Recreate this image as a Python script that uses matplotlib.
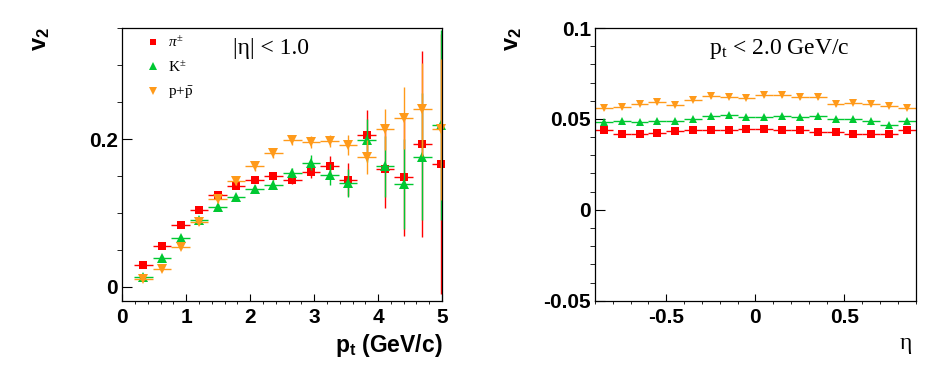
import numpy as np
import matplotlib
matplotlib.use("Agg")
import matplotlib.pyplot as plt
from matplotlib.ticker import MultipleLocator, FuncFormatter
from matplotlib.lines import Line2D

plt.rcParams["font.family"] = ["Liberation Sans", "DejaVu Sans"]
plt.rcParams["mathtext.fontset"] = "custom"
plt.rcParams["mathtext.rm"] = "Liberation Serif"
plt.rcParams["mathtext.it"] = "Liberation Serif:italic"
plt.rcParams["mathtext.bf"] = "Liberation Sans:bold"
plt.rcParams["axes.unicode_minus"] = False

# left panel: v2 vs pt (|eta| < 1.0)
pt = [0.33, 0.62, 0.91, 1.20, 1.49, 1.78, 2.07, 2.36, 2.66, 2.95, 3.24, 3.53, 3.82, 4.11, 4.40, 4.69, 4.98]
pt_halfbin = 0.145
pi_v2 = [0.030, 0.056, 0.084, 0.104, 0.124, 0.136, 0.145, 0.150, 0.145, 0.156, 0.164, 0.145, 0.205, 0.160, 0.149, 0.193, 0.166]
pi_err = [0.002, 0.002, 0.003, 0.003, 0.003, 0.004, 0.004, 0.005, 0.006, 0.009, 0.013, 0.022, 0.034, 0.053, 0.080, 0.126, 0.176]
k_v2 = [0.013, 0.039, 0.066, 0.090, 0.108, 0.121, 0.133, 0.138, 0.154, 0.168, 0.152, 0.141, 0.198, 0.163, 0.139, 0.176, 0.219]
k_err = [0.002, 0.003, 0.003, 0.004, 0.004, 0.004, 0.005, 0.006, 0.007, 0.010, 0.014, 0.019, 0.029, 0.041, 0.061, 0.086, 0.128]
p_v2 = [0.011, 0.024, 0.054, 0.088, 0.119, 0.143, 0.163, 0.181, 0.199, 0.196, 0.197, 0.192, 0.176, 0.213, 0.228, 0.240, 0.213]
p_err = [0.002, 0.003, 0.003, 0.004, 0.005, 0.005, 0.006, 0.006, 0.007, 0.008, 0.008, 0.013, 0.023, 0.028, 0.042, 0.063, 0.095]

# right panel: v2 vs eta (pt < 2.0 GeV/c)
eta = [-0.85, -0.75, -0.65, -0.55, -0.45, -0.35, -0.25, -0.15, -0.05,
       0.05, 0.15, 0.25, 0.35, 0.45, 0.55, 0.65, 0.75, 0.85]
eta_halfbin = 0.05
pi_eta = [0.0439, 0.0415, 0.0415, 0.0424, 0.0435, 0.0439, 0.0439, 0.0439, 0.0446,
          0.0446, 0.0439, 0.0439, 0.0428, 0.0428, 0.0415, 0.0415, 0.0415, 0.0439]
k_eta = [0.0485, 0.0488, 0.0481, 0.0488, 0.0488, 0.0499, 0.0518, 0.0521, 0.0512,
         0.0512, 0.0518, 0.0509, 0.0514, 0.0501, 0.0499, 0.0488, 0.0465, 0.0489]
p_eta = [0.0558, 0.0564, 0.0584, 0.0591, 0.0578, 0.0606, 0.0624, 0.0622, 0.0617,
         0.0630, 0.0630, 0.0618, 0.0618, 0.0580, 0.0587, 0.0580, 0.0571, 0.0562]
eta_err = 0.0007

RED, GREEN, ORANGE = "#ff0000", "#00c832", "#ff9a1a"
SERIES = [("pi", RED, "s", r"$\pi^{\pm}$"), ("k", GREEN, "^", r"K$^{\pm}$"), ("p", ORANGE, "v", r"p+$\bar{\rm p}$")]
SERIF = "Liberation Serif"

fig = plt.figure(figsize=(9.46, 3.72), dpi=100)
axL = fig.add_axes([0.1293, 0.1917, 0.3380, 0.7330])
axR = fig.add_axes([0.6290, 0.1917, 0.3390, 0.7330])


def pts(ax, x, y, ye, xe, col, mk, ms):
    # bars are clipped by the frame, markers are not (ROOT style)
    ax.errorbar(x, y, yerr=ye, xerr=xe, fmt="none", ecolor=col, elinewidth=1.0, capsize=0)
    ax.plot(x, y, ls="none", marker=mk, color=col, ms=ms, mew=0, clip_on=False)


def style(ax, xmaj, xmin, ymaj, ymin):
    ax.xaxis.set_major_locator(MultipleLocator(xmaj))
    ax.xaxis.set_minor_locator(MultipleLocator(xmin))
    ax.yaxis.set_major_locator(MultipleLocator(ymaj))
    ax.yaxis.set_minor_locator(MultipleLocator(ymin))
    fmt = FuncFormatter(lambda v, p: f"{v:g}" if abs(v) > 1e-9 else "0")
    ax.xaxis.set_major_formatter(fmt)
    ax.yaxis.set_major_formatter(fmt)
    ax.tick_params(direction="in", top=False, right=False, width=0.8, labelsize=15)
    ax.tick_params(axis="x", which="major", length=4.8, pad=5)
    ax.tick_params(axis="x", which="minor", length=2.4)
    ax.tick_params(axis="y", which="major", length=7.2, pad=3)
    ax.tick_params(axis="y", which="minor", length=3.6)
    for lab in ax.get_xticklabels() + ax.get_yticklabels():
        lab.set_fontweight("bold")
    for s in ax.spines.values():
        s.set_linewidth(0.9)


# left panel
for (key, col, mk, lab), y, ye in zip(SERIES, [pi_v2, k_v2, p_v2], [pi_err, k_err, p_err]):
    pts(axL, pt, y, ye, pt_halfbin, col, mk, 6.2 if mk == "s" else 6.8)
axL.set_xlim(0, 5)
axL.set_ylim(-0.0185, 0.35)
style(axL, 1, 0.2, 0.2, 0.05)
axL.set_xlabel(r"$\mathbf{p_t}$ (GeV/c)", fontsize=16.5, fontweight="bold")
axL.xaxis.set_label_coords(1.0, -0.187)
axL.xaxis.label.set_ha("right")
axL.xaxis.label.set_va("baseline")
axL.text(0.466, 0.905, "|η| < 1.0", transform=axL.transAxes, ha="center", va="baseline",
         fontsize=17, family=SERIF)
handles = [Line2D([], [], ls="none", marker=mk, color=col, mew=0, ms=5 if mk == "s" else 5.5)
           for key, col, mk, lab in SERIES]
axL.legend(handles, [s[3] for s in SERIES], loc="upper left", bbox_to_anchor=(0.075, 0.975),
           frameon=False, borderpad=0, borderaxespad=0, handlelength=0.9, handletextpad=0.5,
           labelspacing=0.62, prop={"family": SERIF, "size": 11})

# right panel
for (key, col, mk, lab), y in zip(SERIES, [pi_eta, k_eta, p_eta]):
    pts(axR, eta, y, eta_err, eta_halfbin, col, mk, 5.8 if mk == "s" else 6.4)
axR.set_xlim(-0.9, 0.9)
axR.set_ylim(-0.05, 0.1)
style(axR, 0.5, 0.1, 0.05, 0.01)
axR.set_xlabel("η", fontsize=17, family=SERIF)
axR.xaxis.set_label_coords(0.99, -0.179)
axR.xaxis.label.set_ha("right")
axR.xaxis.label.set_va("baseline")
axR.text(0.574, 0.905, r"p$_{\rm t}$ < 2.0 GeV/c", transform=axR.transAxes, ha="center",
         va="baseline", fontsize=17, family=SERIF)

# rotated y titles at the top of each axis
for xf in (41 / 946, 513 / 946):
    fig.text(xf, 1 - 27 / 372, r"$\mathbf{v_2}$", rotation=90, ha="center", va="top", fontsize=17)

fig.savefig("out.png", dpi=100)
